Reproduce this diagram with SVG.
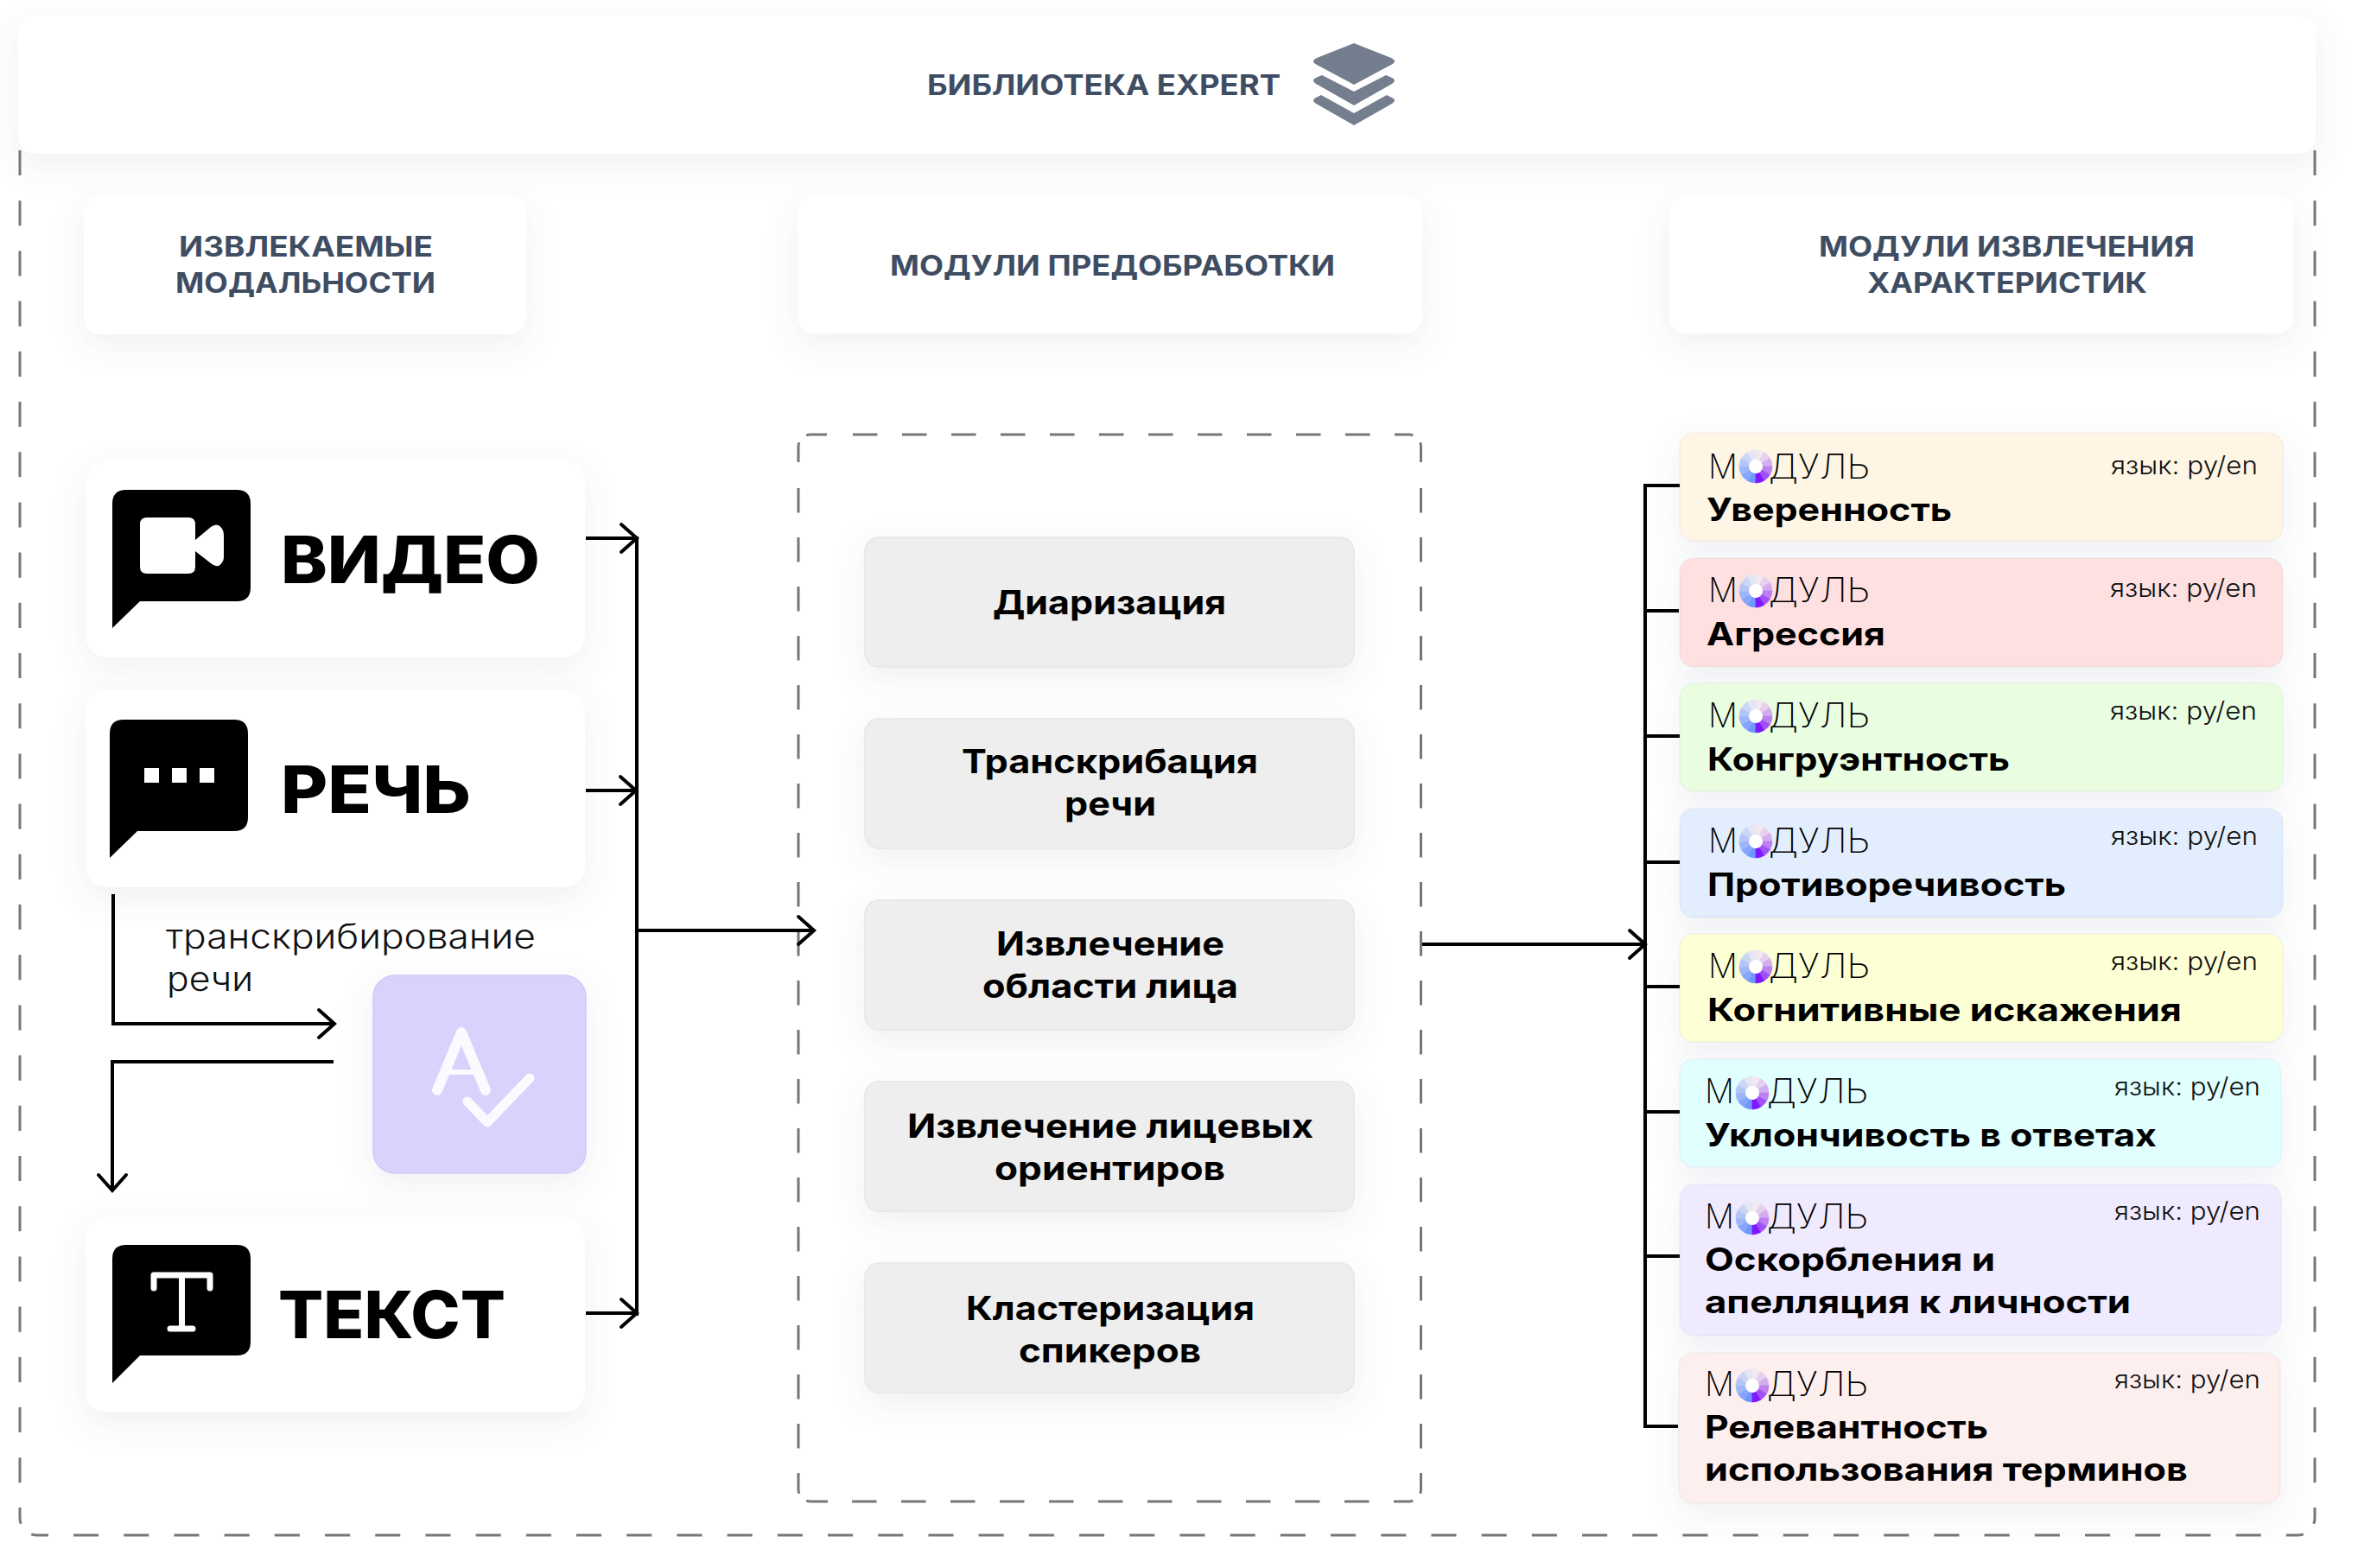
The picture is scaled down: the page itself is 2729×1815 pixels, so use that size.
<svg xmlns="http://www.w3.org/2000/svg" xmlns:xlink="http://www.w3.org/1999/xlink" width="2729" height="1815" viewBox="0 0 2729 1815">
<style>
text{font-family:"Inter","Noto Sans","Liberation Sans",sans-serif}
.hd{font-size:32px;font-weight:700;fill:#3f4d63}
.big{font-size:75px;font-weight:800;fill:#000}
.cap{font-size:39px;font-weight:300;fill:#111}
.g{font-size:38px;font-weight:700;fill:#000}
.mo{font-size:39px;font-weight:200;fill:#000}
.la{font-size:29px;font-weight:300;fill:#111}
.nm{font-size:37px;font-weight:700;fill:#000}
.card{fill:#fff;filter:url(#s)}
.mod{stroke:#000;stroke-opacity:.04;stroke-width:1.5;filter:url(#s)}
.gr{fill:#eee;stroke:#e4e6e8;stroke-width:1.5;filter:url(#s)}
.dash{fill:none;stroke:#777;stroke-width:3;stroke-dasharray:29.1 29.1}
.dm{fill:none;stroke:#777;stroke-width:3;stroke-dasharray:28.5 28.5}
.dc{fill:none;stroke:#777;stroke-width:3}
.ln{fill:none;stroke:#000;stroke-width:4}
.ar{marker-end:url(#arrow)}
.ic{fill:#000}
.st{fill:#757e8e}
</style>
<defs>
<filter id="s" x="-30%" y="-40%" width="160%" height="200%"><feDropShadow dx="0" dy="12" stdDeviation="18" flood-color="#5a7090" flood-opacity=".1"/></filter>
<marker id="arrow" markerUnits="userSpaceOnUse" markerWidth="30" markerHeight="40" viewBox="-24 -20 30 40" refX="0" refY="0" orient="auto" overflow="visible"><path d="M-18 -16L0 0L-18 16" fill="none" stroke="#000" stroke-width="4" stroke-linecap="round"/></marker>
<g id="logo" stroke-width=".7">
<path fill="#6f97ff" stroke="#6f97ff" d="M0 0L0 19A19 19 0 0 1 -9.5 16.45Z"/>
<path fill="#86a6fc" stroke="#86a6fc" d="M0 0L-9.5 16.45A19 19 0 0 1 -16.45 9.5Z"/>
<path fill="#9db5f9" stroke="#9db5f9" d="M0 0L-16.45 9.5A19 19 0 0 1 -19 0Z"/>
<path fill="#b3c5f7" stroke="#b3c5f7" d="M0 0L-19 0A19 19 0 0 1 -16.45 -9.5Z"/>
<path fill="#cbd6f5" stroke="#cbd6f5" d="M0 0L-16.45 -9.5A19 19 0 0 1 -9.5 -16.45Z"/>
<path fill="#e4e6f3" stroke="#e4e6f3" d="M0 0L-9.5 -16.45A19 19 0 0 1 0 -19Z"/>
<path fill="#f2e8f0" stroke="#f2e8f0" d="M0 0L0 -19A19 19 0 0 1 9.5 -16.45Z"/>
<path fill="#e6d0ee" stroke="#e6d0ee" d="M0 0L9.5 -16.45A19 19 0 0 1 16.45 -9.5Z"/>
<path fill="#d3aeee" stroke="#d3aeee" d="M0 0L16.45 -9.5A19 19 0 0 1 19 0Z"/>
<path fill="#bc80f0" stroke="#bc80f0" d="M0 0L19 0A19 19 0 0 1 16.45 9.5Z"/>
<path fill="#a050f6" stroke="#a050f6" d="M0 0L16.45 9.5A19 19 0 0 1 9.5 16.45Z"/>
<path fill="#7f18fd" stroke="#7f18fd" d="M0 0L9.5 16.45A19 19 0 0 1 0 19Z"/>
<circle r="8" fill="#fff" stroke="none"/>
</g>
</defs>
<rect width="2729" height="1815" fill="#fff"/>

<g id="frame">
<path class="dash" d="M23 174V1745"/>
<path class="dash" d="M2679 174V1745"/>
<path class="dash" d="M85 1777H2646"/>
<path class="dc" d="M23 1745V1757A20 20 0 0 0 24.200 1763.800M36.200 1775.800A20 20 0 0 0 43 1777H56"/>
<path class="dc" d="M2679 1745V1757A20 20 0 0 1 2677.800 1763.800M2665.800 1775.800A20 20 0 0 1 2659 1777H2646"/>
</g>

<g id="library">
<rect class="card" x="21" y="18" width="2659" height="160" rx="20"/>
<text class="hd" x="1073" y="110" textLength="409" lengthAdjust="spacingAndGlyphs">БИБЛИОТЕКА EXPERT</text>
<path class="st" d="M1567 50L1610 67Q1618 71 1610 75L1567 98L1524 75Q1516 71 1524 67Z"/>
<path class="st" d="M1530 87L1567 106L1604 87L1611 90Q1617 93 1611 97L1567 122L1523 97Q1517 93 1523 90Z"/>
<path class="st" d="M1529 110L1567 131L1605 110L1611 113Q1617 116 1611 120L1567 145L1523 120Q1517 116 1523 113Z"/>
</g>

<g id="head-modalities">
<rect class="card" x="97" y="227" width="512" height="160" rx="20"/>
<text class="hd" x="207" y="297" textLength="294" lengthAdjust="spacingAndGlyphs">ИЗВЛЕКАЕМЫЕ</text>
<text class="hd" x="203" y="339" textLength="301" lengthAdjust="spacingAndGlyphs">МОДАЛЬНОСТИ</text>
</g>
<g id="head-preproc">
<rect class="card" x="923" y="227" width="723" height="159" rx="20"/>
<text class="hd" x="1030" y="319" textLength="515" lengthAdjust="spacingAndGlyphs">МОДУЛИ ПРЕДОБРАБОТКИ</text>
</g>
<g id="head-features">
<rect class="card" x="1932" y="227" width="722" height="159" rx="20"/>
<text class="hd" x="2105" y="297" textLength="435" lengthAdjust="spacingAndGlyphs">МОДУЛИ ИЗВЛЕЧЕНИЯ</text>
<text class="hd" x="2161" y="339" textLength="324" lengthAdjust="spacingAndGlyphs">ХАРАКТЕРИСТИК</text>
</g>

<g id="video">
<rect class="card" x="99" y="534" width="578" height="227" rx="25"/>
<path class="ic" d="M146 567H274Q290 567 290 583V680Q290 696 274 696H162L130 727V583Q130 567 146 567Z"/>
<path fill="#fff" d="M170 599H218Q226 599 226 607V625L244 610Q252 604 257 612Q259 615 259 619V644Q259 649 257 651Q252 659 244 652L226 638V656Q226 664 218 664H170Q162 664 162 656V607Q162 599 170 599Z"/>
<text class="big" x="325" y="675" textLength="300" lengthAdjust="spacingAndGlyphs">ВИДЕО</text>
</g>
<g id="speech">
<rect class="card" x="99" y="799" width="578" height="228" rx="25"/>
<path class="ic" d="M143 833H271Q287 833 287 849V946Q287 962 271 962H159L127 993V849Q127 833 143 833Z"/>
<rect x="167" y="889" width="17" height="17" fill="#fff"/><rect x="199" y="889" width="17" height="17" fill="#fff"/><rect x="231" y="889" width="17" height="17" fill="#fff"/>
<text class="big" x="325" y="941" textLength="220" lengthAdjust="spacingAndGlyphs">РЕЧЬ</text>
</g>
<g id="spellcheck">
<rect x="432" y="1129" width="246" height="229" rx="25" fill="#d9d2fc" stroke="#d0c9f4" stroke-width="1.5" filter="url(#s)"/>
<path d="M506 1262L534 1195L562 1262" fill="none" stroke="#fbfaff" stroke-width="12" stroke-linecap="round" stroke-linejoin="round"/>
<path d="M515 1241H553" fill="none" stroke="#fbfaff" stroke-width="6"/>
<path d="M541 1275L564 1299L613 1248" fill="none" stroke="#fbfaff" stroke-width="11" stroke-linecap="round" stroke-linejoin="round"/>
</g>
<g id="text-node">
<rect class="card" x="99" y="1409" width="578" height="226" rx="25"/>
<path class="ic" d="M146 1441H274Q290 1441 290 1457V1553Q290 1569 274 1569H162L130 1601V1457Q130 1441 146 1441Z"/>
<path d="M178 1491V1476H243V1491M210.500 1476V1538M197 1538H223" fill="none" stroke="#fff" stroke-width="7" stroke-linecap="round" stroke-linejoin="round"/>
<text class="big" x="322" y="1549" textLength="263" lengthAdjust="spacingAndGlyphs">ТЕКСТ</text>
</g>
<text class="cap" x="192" y="1098" textLength="428" lengthAdjust="spacingAndGlyphs">транскрибирование</text>
<text class="cap" x="193" y="1147" textLength="100" lengthAdjust="spacingAndGlyphs">речи</text>

<g id="preproc-frame">
<path class="dm" d="M987 503H1586"/>
<path class="dm" d="M986 1738H1585"/>
<path class="dm" d="M924 565V1705"/>
<path class="dm" d="M1644.500 565V1705"/>
<path class="dc" d="M924 535V517A14 14 0 0 1 924.800 512.200M933.200 503.800A14 14 0 0 1 938 503H957"/>
<path class="dc" d="M1614 503H1630.500A14 14 0 0 1 1635.300 503.800M1643.700 512.200A14 14 0 0 1 1644.500 517V535"/>
<path class="dc" d="M924 1705V1724A14 14 0 0 0 924.800 1728.800M933.200 1737.200A14 14 0 0 0 938 1738H958"/>
<path class="dc" d="M1613 1738H1630.500A14 14 0 0 0 1635.300 1737.200M1643.700 1728.800A14 14 0 0 0 1644.500 1724V1705"/>
</g>
<g id="diar"><rect class="gr" x="1001" y="622" width="566" height="150" rx="16"/><text class="g" x="1149" y="711" textLength="270" lengthAdjust="spacingAndGlyphs">Диаризация</text></g>
<g id="transcr"><rect class="gr" x="1001" y="832" width="566" height="150" rx="16"/><text class="g" x="1113" y="895" textLength="343" lengthAdjust="spacingAndGlyphs">Транскрибация</text><text class="g" x="1232" y="944" textLength="106" lengthAdjust="spacingAndGlyphs">речи</text></g>
<g id="face"><rect class="gr" x="1001" y="1042" width="566" height="150" rx="16"/><text class="g" x="1153" y="1106" textLength="264" lengthAdjust="spacingAndGlyphs">Извлечение</text><text class="g" x="1137" y="1155" textLength="296" lengthAdjust="spacingAndGlyphs">области лица</text></g>
<g id="landmarks"><rect class="gr" x="1001" y="1252" width="566" height="150" rx="16"/><text class="g" x="1050" y="1317" textLength="470" lengthAdjust="spacingAndGlyphs">Извлечение лицевых</text><text class="g" x="1151" y="1366" textLength="267" lengthAdjust="spacingAndGlyphs">ориентиров</text></g>
<g id="cluster"><rect class="gr" x="1001" y="1462" width="566" height="150" rx="16"/><text class="g" x="1118" y="1528" textLength="334" lengthAdjust="spacingAndGlyphs">Кластеризация</text><text class="g" x="1179" y="1577" textLength="211" lengthAdjust="spacingAndGlyphs">спикеров</text></g>

<g id="connectors">
<path class="ln ar" d="M678 623H737"/>
<path class="ln ar" d="M678 915H736"/>
<path class="ln ar" d="M678 1520H737"/>
<path class="ln" d="M737 621V1523"/>
<path class="ln ar" d="M737 1077H942"/>
<path class="ln ar" d="M131 1035V1185H387"/>
<path class="ln ar" d="M386 1229H130V1378"/>
<path class="ln ar" d="M1646 1093H1904"/>
<path class="ln" d="M1944 562H1904V1651H1942"/>
<path class="ln" d="M1904 707H1943M1904 852H1944M1904 998H1944M1904 1142H1944M1904 1287H1944M1904 1454H1944"/>
</g>

<g id="m1"><rect class="mod" x="1944" y="501" width="698" height="125" rx="16" fill="#fef5e4"/><text class="mo" x="1977" y="554" textLength="34" lengthAdjust="spacingAndGlyphs">М</text><use href="#logo" x="2032" y="540"/><text class="mo" x="2047" y="554" textLength="117" lengthAdjust="spacingAndGlyphs">ДУЛЬ</text><text class="la" x="2443" y="549" textLength="170" lengthAdjust="spacingAndGlyphs">язык: ру/en</text><text class="nm" x="1975" y="603" textLength="284" lengthAdjust="spacingAndGlyphs">Уверенность</text></g>
<g id="m2"><rect class="mod" x="1944" y="646" width="698" height="126" rx="16" fill="#fee0e1"/><text class="mo" x="1977" y="697" textLength="34" lengthAdjust="spacingAndGlyphs">М</text><use href="#logo" x="2032" y="684"/><text class="mo" x="2047" y="697" textLength="117" lengthAdjust="spacingAndGlyphs">ДУЛЬ</text><text class="la" x="2442" y="691" textLength="170" lengthAdjust="spacingAndGlyphs">язык: ру/en</text><text class="nm" x="1975" y="747" textLength="207" lengthAdjust="spacingAndGlyphs">Агрессия</text></g>
<g id="m3"><rect class="mod" x="1944" y="791" width="698" height="125" rx="16" fill="#e9fde1"/><text class="mo" x="1977" y="842" textLength="34" lengthAdjust="spacingAndGlyphs">М</text><use href="#logo" x="2032" y="829"/><text class="mo" x="2047" y="842" textLength="117" lengthAdjust="spacingAndGlyphs">ДУЛЬ</text><text class="la" x="2442" y="833" textLength="170" lengthAdjust="spacingAndGlyphs">язык: ру/en</text><text class="nm" x="1976" y="892" textLength="350" lengthAdjust="spacingAndGlyphs">Конгруэнтность</text></g>
<g id="m4"><rect class="mod" x="1944" y="936" width="698" height="126" rx="16" fill="#e2eefe"/><text class="mo" x="1977" y="987" textLength="34" lengthAdjust="spacingAndGlyphs">М</text><use href="#logo" x="2032" y="974"/><text class="mo" x="2047" y="987" textLength="117" lengthAdjust="spacingAndGlyphs">ДУЛЬ</text><text class="la" x="2443" y="978" textLength="170" lengthAdjust="spacingAndGlyphs">язык: ру/en</text><text class="nm" x="1976" y="1037" textLength="415" lengthAdjust="spacingAndGlyphs">Противоречивость</text></g>
<g id="m5"><rect class="mod" x="1944" y="1081" width="698" height="125" rx="16" fill="#fdffd5"/><text class="mo" x="1977" y="1132" textLength="34" lengthAdjust="spacingAndGlyphs">М</text><use href="#logo" x="2032" y="1119"/><text class="mo" x="2047" y="1132" textLength="117" lengthAdjust="spacingAndGlyphs">ДУЛЬ</text><text class="la" x="2443" y="1123" textLength="170" lengthAdjust="spacingAndGlyphs">язык: ру/en</text><text class="nm" x="1976" y="1182" textLength="549" lengthAdjust="spacingAndGlyphs">Когнитивные искажения</text></g>
<g id="m6"><rect class="mod" x="1944" y="1226" width="696" height="125" rx="16" fill="#e0fffe"/><text class="mo" x="1973" y="1277" textLength="34" lengthAdjust="spacingAndGlyphs">М</text><use href="#logo" x="2028" y="1265"/><text class="mo" x="2045" y="1277" textLength="117" lengthAdjust="spacingAndGlyphs">ДУЛЬ</text><text class="la" x="2447" y="1268" textLength="169" lengthAdjust="spacingAndGlyphs">язык: ру/en</text><text class="nm" x="1973" y="1327" textLength="523" lengthAdjust="spacingAndGlyphs">Уклончивость в ответах</text></g>
<g id="m7"><rect class="mod" x="1944" y="1371" width="696" height="175" rx="16" fill="#f0eafe"/><text class="mo" x="1973" y="1422" textLength="34" lengthAdjust="spacingAndGlyphs">М</text><use href="#logo" x="2028" y="1410"/><text class="mo" x="2045" y="1422" textLength="117" lengthAdjust="spacingAndGlyphs">ДУЛЬ</text><text class="la" x="2447" y="1412" textLength="169" lengthAdjust="spacingAndGlyphs">язык: ру/en</text><text class="nm" x="1973" y="1471" textLength="336" lengthAdjust="spacingAndGlyphs">Оскорбления и</text><text class="nm" x="1973" y="1520" textLength="493" lengthAdjust="spacingAndGlyphs">апелляция к личности</text></g>
<g id="m8"><rect class="mod" x="1943" y="1566" width="696" height="174" rx="16" fill="#feefef"/><text class="mo" x="1973" y="1616" textLength="34" lengthAdjust="spacingAndGlyphs">М</text><use href="#logo" x="2028" y="1604"/><text class="mo" x="2045" y="1616" textLength="117" lengthAdjust="spacingAndGlyphs">ДУЛЬ</text><text class="la" x="2447" y="1607" textLength="169" lengthAdjust="spacingAndGlyphs">язык: ру/en</text><text class="nm" x="1973" y="1665" textLength="328" lengthAdjust="spacingAndGlyphs">Релевантность</text><text class="nm" x="1973" y="1714" textLength="559" lengthAdjust="spacingAndGlyphs">использования терминов</text></g>
</svg>
